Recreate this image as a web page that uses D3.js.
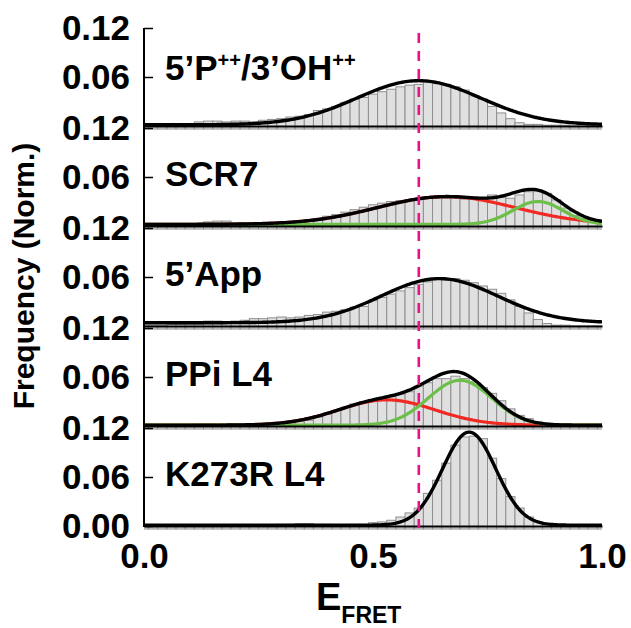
<!DOCTYPE html>
<html>
<head>
<meta charset="utf-8">
<script src="https://cdn.jsdelivr.net/npm/d3@7"></script>
<style>
  body { margin: 0; background: #fff; }
  svg { display: block; }
  text { font-family: "Liberation Sans", Arial, Helvetica, sans-serif; font-weight: bold; fill: #000; }
</style>
</head>
<body>
<svg id="chart" width="631" height="628"></svg>
<script>
// E_FRET bin centres (bin width 0.02)
const binCenters = d3.range(51).map((k) => k * 0.02);

const panelNames = ['5’P++/3’OH++', 'SCR7', '5’App', 'PPi L4', 'K273R L4'];

// normalised histograms, one value per bin
const histP = [
  .001, .001, .001, .002, .002, .002,
  .005, .006, .006, .005, .006, .006, .005,
  .007, .008, .009, .011,
  .012, .014, .019, .021, .024, .029, .033, .035, .039, .042, .045, .048, .050,
  .051, .055, .052, .051, .048, .044, .037, .033, .024, .016, .009,
  .004, .002, .002, .001, .001, .001, .000, .000, .001, .001,
];
const histSCR7 = [
  .001, .001, .001, .001, .002, .002,
  .003, .005, .006, .006, .004, .003, .004,
  .004, .004, .005, .005,
  .005, .007, .009, .012, .014, .017, .020, .023, .026, .028, .030, .031, .032,
  .033, .034, .034, .034, .034, .033, .033, .033,
  .038, .035, .034, .038, .042, .044, .040, .032, .022, .013, .009, .005, .002,
];
const histApp = [
  .001, .001, .001, .002, .002, .002, .002,
  .006, .006, .004, .006, .007, .009, .009,
  .010, .011, .010, .011, .013, .014,
  .017, .018, .020, .023, .024, .031, .035, .039, .043, .047,
  .051, .054, .058, .057, .058, .056, .053, .049, .045, .040, .032, .024, .016, .008, .003,
  .001, .001, .000, .000, .000, .000,
];
const histPPi = [
  .001, .001, .001, .001, .001, .001, .002, .002, .002, .003, .002, .002, .002, .002, .003,
  .003, .004,
  .006, .007, .011, .015, .019, .023, .027, .030, .032, .034, .036, .039, .042,
  .049, .053, .058, .058, .061, .058, .054, .047, .040, .031, .021, .013, .009, .005, .002,
  .001, .001, .001, .000, .000, .000,
];
const histK273R = [
  .000, .000, .001, .000, .001, .000, .001, .001, .000, .001, .001, .001, .001, .001, .001, .002,
  .002, .003, .003, .002, .002,
  .001, .001, .002, .002,
  .004, .005, .007, .011, .016,
  .022, .040, .056, .077, .099, .109, .110, .107, .083, .058, .036, .022, .011, .005, .002,
  .001, .001, .000, .000, .000, .000,
];
const histograms = [histP, histSCR7, histApp, histPPi, histK273R];

// Gaussian fit components per panel: [amplitude, centre, width]
const fitP = [[.054, .60, .135]];
const fitSCR7 = [[.034, .66, .15], [.028, .86, .055]];
const fitApp = [[.054, .645, .127]];
const fitPPi = [[.031, .53, .105], [.055, .69, .069]];
const fitK273R = [[.114, .71, .058]];
const fits = [fitP, fitSCR7, fitApp, fitPPi, fitK273R];
const fitOffsets = [.0015, .002, .004, .001, .001];
const componentColors = ['#f02a22', '#6cc04a'];

const yTicks = [0.06, 0.12];
const xTicks = [0, 0.5, 1];
const cutoff = 0.6;

// layout
const svg = d3.select('#chart');
const left = 144;
const right = 602;
const firstBase = 126;
const step = 100;
const panelH = 98;

const x = d3.scaleLinear().domain([0, 1]).range([left, right]);
const binW = x(0.02) - x(0);

svg.append('defs').append('clipPath')
  .attr('id', 'plotClip')
  .append('rect')
  .attr('x', left)
  .attr('y', 0)
  .attr('width', right - left)
  .attr('height', 628);

function gauss(p, e) {
  return p[0] * Math.exp(-0.5 * ((e - p[1]) / p[2]) ** 2);
}

const grid = d3.range(0, 1.0001, 0.004);

panelNames.forEach((name, i) => {
  const base = firstBase + i * step;
  const y = d3.scaleLinear().domain([0, 0.12]).range([base, base - panelH]);
  const g = svg.append('g');
  const plot = g.append('g').attr('clip-path', 'url(#plotClip)');

  // histogram bars
  plot.selectAll('rect')
    .data(histograms[i])
    .enter()
    .append('rect')
    .attr('x', (d, k) => x(binCenters[k]) - binW / 2)
    .attr('y', (d) => y(d))
    .attr('width', binW)
    .attr('height', (d) => y(0) - y(d) + 3)
    .attr('fill', '#e0e0e0')
    .attr('stroke', '#8e8e8e')
    .attr('stroke-width', 1);

  // fitted curves
  const comps = fits[i];
  const off = fitOffsets[i];
  if (comps.length > 1) {
    comps.forEach((p, c) => {
      plot.append('path')
        .datum(grid)
        .attr('fill', 'none')
        .attr('stroke', componentColors[c])
        .attr('stroke-width', 3.2)
        .attr('d', d3.line().x((e) => x(e)).y((e) => y(gauss(p, e) + off)));
    });
  }
  plot.append('path')
    .datum(grid)
    .attr('fill', 'none')
    .attr('stroke', '#000')
    .attr('stroke-width', 3.4)
    .attr('d', d3.line()
      .x((e) => x(e))
      .y((e) => y(d3.sum(comps, (p) => gauss(p, e)) + off)));

  // x baseline
  const last = i === panelNames.length - 1;
  const xAxis = d3.axisBottom(x)
    .tickValues(last ? xTicks : [])
    .tickSize(0)
    .tickPadding(17)
    .tickFormat(d3.format('.1f'));
  const xa = g.append('g')
    .attr('transform', `translate(0,${base})`)
    .call(xAxis);
  xa.select('.domain').attr('stroke-width', 2);
  xa.selectAll('text').attr('font-size', 35).attr('font-family', null);

  // y ticks
  const yAxis = d3.axisLeft(y)
    .tickValues(last ? [0].concat(yTicks) : yTicks)
    .tickSizeInner(-9)
    .tickSizeOuter(0)
    .tickPadding(14)
    .tickFormat(d3.format('.2f'));
  const ya = g.append('g')
    .attr('transform', `translate(${left},0)`)
    .call(yAxis);
  ya.select('.domain').remove();
  ya.selectAll('line').attr('stroke-width', 1.5);
  ya.selectAll('text').attr('font-size', 35).attr('font-family', null);

  // panel label
  const label = g.append('text')
    .attr('x', 165)
    .attr('y', base - (i === 0 ? 59 : 53))
    .attr('font-size', 35);
  name.split(/(\+\+)/).filter((s) => s).forEach((part) => {
    if (part === '++') {
      label.append('tspan').attr('font-size', 20).attr('dy', -13).text(part);
    } else {
      label.append('tspan').attr('dy', label.selectAll('tspan').size() ? 13 : 0).text(part);
    }
  });
});

// left spine
svg.append('line')
  .attr('x1', left).attr('x2', left)
  .attr('y1', firstBase - panelH)
  .attr('y2', firstBase + 4 * step + 1)
  .attr('stroke', '#000')
  .attr('stroke-width', 2);

// FRET cut-off
svg.append('line')
  .attr('x1', x(cutoff)).attr('x2', x(cutoff))
  .attr('y1', 33)
  .attr('y2', firstBase + 4 * step + 2)
  .attr('stroke', '#ec0f8a')
  .attr('stroke-width', 2.6)
  .attr('stroke-dasharray', '10,8');

// axis titles
const xt = svg.append('text')
  .attr('x', 316)
  .attr('y', 610)
  .attr('font-size', 38)
  .text('E');
xt.append('tspan').attr('font-size', 23).attr('dy', 13).text('FRET');

svg.append('text')
  .attr('transform', 'translate(34,276) rotate(-90)')
  .attr('text-anchor', 'middle')
  .attr('font-size', 30)
  .text('Frequency (Norm.)');
</script>
</body>
</html>
